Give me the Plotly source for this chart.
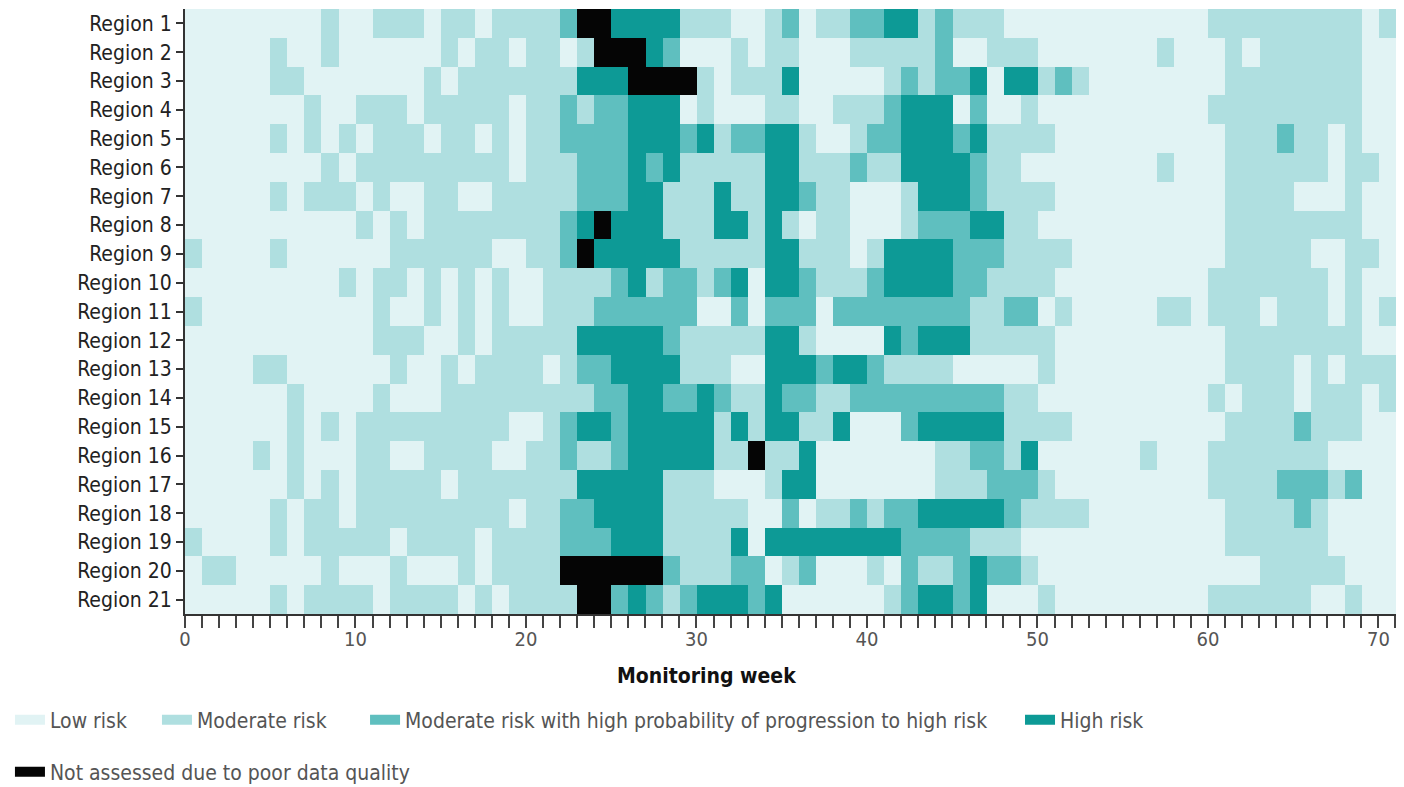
import plotly.graph_objects as go

# ---------------- data ----------------
regions = [f"Region {i}" for i in range(1, 22)]
week_edges = list(range(73))          # cell boundaries, weeks 0..72
tick_weeks = list(range(73))
tick_labels = [str(w) if w % 10 == 0 else "" for w in tick_weeks]

category_names = [
    "Low risk",
    "Moderate risk",
    "Moderate risk with high probability of progression to high risk",
    "High risk",
    "Not assessed due to poor data quality",
]
category_colors = ["#e1f3f4", "#afdfe0", "#5fbfbf", "#0d9a96", "#050505"]

# weekly risk level per region (0 low, 1 moderate, 2 moderate+prob, 3 high, 4 not assessed)
# run-length notation: value*count
risk_runs = [
    "0*8,1,0*2,1*3,0,1*2,0,1*4,2,4*2,3*4,1*3,0*2,1,2,0,1*2,2*2,3*2,1,2,1*3,0*12,1*9,0,1,0",
    "0*5,1,0*2,1,0*6,1,0,1*2,0,1*2,0,1,4*3,3,2,0*3,1,0,1*2,0*3,1*5,2,0*2,1*3,0*7,1,0*3,1,0,1*6,0*3",
    "0*5,1*2,0*7,1,0,1*7,3*3,4*4,1,0,1*3,3,0*5,1,2,1,2*2,3,0,3*2,1,2,1,0*8,1*8,0*3",
    "0*7,1,0*2,1*3,0,1*5,0,1*2,2,1,2*2,3*3,0,1,0*3,1*2,0*2,1*3,2,3*3,0,2,0*2,1,0*10,1*9,0*3",
    "0*5,1,0,1,0,1,0,1*3,0,1*2,0,1,0,1*2,2*4,3*3,2,3,1,2*2,3*2,1,0*2,1,2*2,3*3,2,3,1*4,0*10,1*3,2,1*2,0,1,0*3",
    "0*8,1,0,1*9,0,1*3,2*3,3,2,3,1*5,3*2,1*3,2,1*2,3*4,2,1*2,0*8,1,0*3,1*6,0,1*2,0*2",
    "0*5,1,0,1*3,0,1,0*2,1*2,0*2,1*5,2*3,3*2,1*3,3,1*2,3*2,2,1*2,0*3,1,3*3,2,1*4,0*10,1*4,0*3,1,0*3",
    "0*10,1,0,1,0,1*8,2,3,4,3*3,1*3,3*2,1,3,1,0,1*2,0*3,1,2*3,3*2,1*2,0*11,1*8,0*3",
    "1,0*4,1,0*6,1*6,0*2,1*2,2,4,3*5,1*5,3*2,1*3,0,1,3*4,2*3,1*4,0*9,1*5,0*2,1*2,0*2",
    "0*9,1,0,1*2,0,1,0,1,0,1,0*2,1*4,2,3,1,2*2,1,2,3,0,3*2,2,1*3,2,3*4,2*2,1*4,0*9,1*7,0,1,0*3",
    "1,0*10,1,0*2,1,0,1,0,1,0*2,1*3,2*6,0*2,2,0,2*3,0,2*8,1*2,2*2,0,1,0*5,1*2,0,1*3,0,1*3,0,1,0,1,0",
    "0*11,1*3,0*2,1,0,1*5,3*5,2,1*5,3*2,1,0*4,3,2,3*3,1*5,0*10,1*8,0*2,1",
    "0*4,1*2,0*6,1,0*2,1,0,1*4,0,1,2*2,3*4,1*3,0*2,3*3,2,3*2,2,1*4,0*5,1,0*10,1*4,0,1,0,1*4",
    "0*6,1,0*4,1,0*3,1*9,2*2,3*2,2*2,3,2,1*2,3,2*2,1*2,2*9,1*2,0*10,1,0,1*3,0,1*3,0,1*2",
    "0*6,1,0,1,0,1*9,0*2,1,2,3*2,2,3*5,1,3,1,3*2,1*2,3,0*3,2,3*5,1*4,0*9,1*4,2,1*3,0*3",
    "0*4,1,0,1,0*3,1*2,0*2,1*4,0*2,1*2,2,1,1,2,3*5,1*2,4,1*2,3,0*7,1*2,2*2,1,3,0*6,1,0*3,1*7,0*5",
    "0*6,1,0,1,0,1*5,0,1*7,3*5,1*3,0*3,1,3*2,0*7,1*3,2*3,1,0*9,1*4,2*3,1,2,0*3",
    "0*5,1,0,1*2,0,1*9,0,1*2,2*2,3*4,1*5,0*2,2,0,1*2,2,1,2*2,3*5,2,1*4,0*8,1*4,2,1,0*5",
    "1,0*4,1,0,1*5,0,1*4,0,1*4,2*3,3*3,1*4,3,0,3*8,2*4,1*3,0*12,1*6,0*5",
    "0,1*2,0*5,1,0*3,1,0*3,1,0,1*4,4*6,2,1*3,2*2,0,1,2,0*3,1,0,2,1*2,2,3,2*2,1,0*13,1*5,0*3,1",
    "0*5,1,0,1*4,0,1*4,0,1,0,1*4,4*2,2,3,2,1,2,3*3,2,3,0*6,1,2,3*2,2,3,0*3,1,0*9,1*6,0*2,1,0*3",
]


def decode(runs):
    vals = []
    for tok in runs.split(","):
        if "*" in tok:
            v, n = tok.split("*")
            vals += [int(v)] * int(n)
        else:
            vals.append(int(tok))
    return (vals + [0] * 72)[:72]


z = [decode(r) for r in risk_runs]

n_cat = len(category_colors)
colorscale = []
for i, c in enumerate(category_colors):
    colorscale += [[i / n_cat, c], [(i + 1) / n_cat, c]]

FONT = "DejaVu Sans Condensed, Liberation Sans Narrow, Arial Narrow, sans-serif"

fig = go.Figure()
fig.add_trace(
    go.Heatmap(
        z=z,
        x=week_edges,
        y=regions,
        colorscale=colorscale,
        zmin=-0.5,
        zmax=n_cat - 0.5,
        showscale=False,
        hoverinfo="skip",
        xgap=0,
        ygap=0,
    )
)

# legend entries: one legend box per entry so that spacing matches the figure
legend_ids = ["legend", "legend2", "legend3", "legend4", "legend5"]
legend_pos = [(-0.1436, -0.1752), (-0.0230, -0.1752), (0.1477, -0.1752),
              (0.6850, -0.1752), (-0.1436, -0.2612)]

for name, color, lid in zip(category_names, category_colors, legend_ids):
    fig.add_trace(
        go.Scatter(
            x=[None],
            y=[None],
            mode="lines",
            line=dict(color=color, width=12),
            name=name,
            showlegend=True,
            legend=lid,
            hoverinfo="skip",
        )
    )

legend_layout = {}
for lid, (lx, ly) in zip(legend_ids, legend_pos):
    legend_layout[lid] = dict(
        orientation="h",
        x=lx,
        xanchor="left",
        y=ly,
        yanchor="middle",
        font=dict(family=FONT, size=21, color="#555"),
        bgcolor="rgba(0,0,0,0)",
        borderwidth=0,
        itemwidth=30,
        itemclick=False,
        itemdoubleclick=False,
    )

# the page body adds an 8px offset; size the figure to fill the rest of the window
fig.update_layout(
    width=1396,
    height=779,
    margin=dict(l=177, r=0, t=1, b=173, autoexpand=False),
    paper_bgcolor="white",
    plot_bgcolor="white",
    font=dict(family=FONT, size=18, color="#444"),
    xaxis=dict(
        range=[0, 71.5],
        tickmode="array",
        tickvals=tick_weeks,
        ticktext=tick_labels,
        ticks="outside",
        ticklen=12,
        tickwidth=1.8,
        tickcolor="#444",
        ticklabelstandoff=-6,
        showline=True,
        linecolor="#333",
        linewidth=2,
        showgrid=False,
        zeroline=False,
        automargin=False,
        tickfont=dict(family=FONT, size=20, color="#555"),
        fixedrange=True,
    ),
    yaxis=dict(
        type="category",
        autorange="reversed",
        ticks="outside",
        ticklen=7,
        tickwidth=1.8,
        tickcolor="#333",
        showline=True,
        linecolor="#333",
        linewidth=2,
        showgrid=False,
        zeroline=False,
        automargin=False,
        tickfont=dict(family=FONT, size=21, color="#222"),
        fixedrange=True,
    ),
    annotations=[
        dict(
            text="<b>Monitoring week</b>",
            xref="paper",
            yref="paper",
            x=0.428,
            y=-0.102,
            xanchor="center",
            yanchor="middle",
            showarrow=False,
            font=dict(family=FONT, size=21, color="#111"),
        )
    ],
    **legend_layout,
)

fig.write_html("out.html")
